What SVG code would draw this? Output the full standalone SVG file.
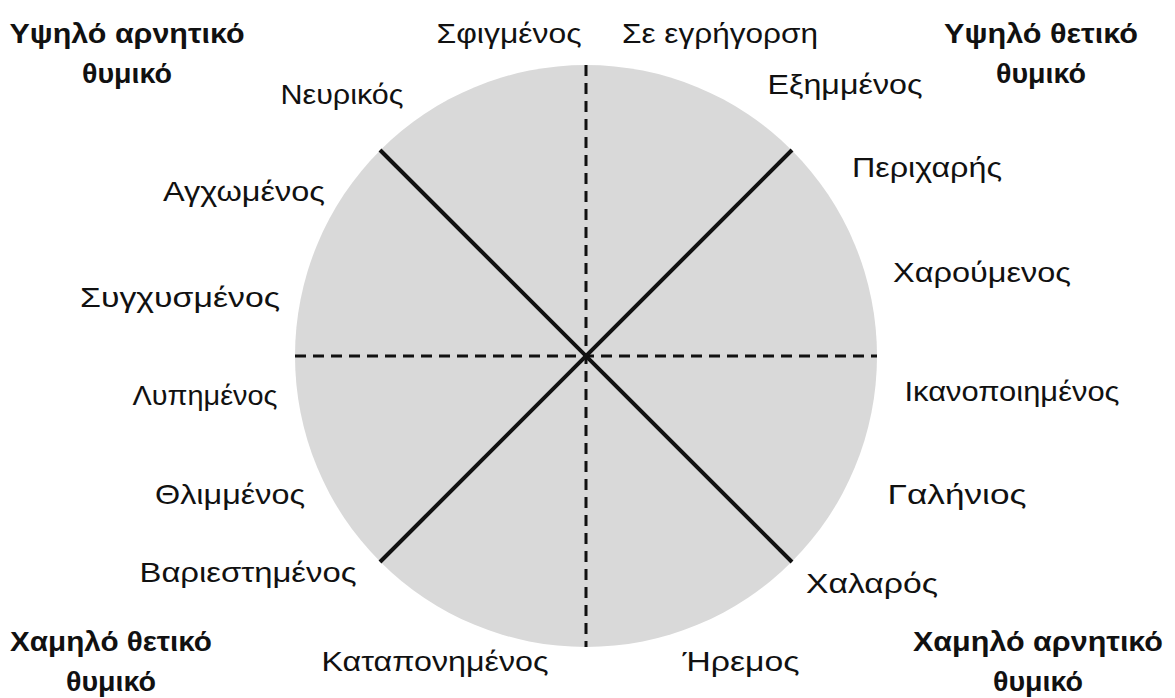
<svg xmlns="http://www.w3.org/2000/svg" width="1175" height="698" viewBox="0 0 1175 698">
<style>
.lbl{font-family:"Liberation Sans",Arial,sans-serif;font-size:28px;fill:#111;text-anchor:middle}
.hd{font-family:"Liberation Sans",Arial,sans-serif;font-size:28px;font-weight:bold;fill:#111;text-anchor:middle}
.dash{stroke:#111;stroke-width:3;stroke-dasharray:11 7;fill:none}
.axis{stroke:#111;stroke-width:4;fill:none}
</style>
<rect width="1175" height="698" fill="#fff"/>
<g id="wheel">
<circle cx="586" cy="356" r="291" fill="#d9d9d9"/>
</g>
<g id="connectors">
<line class="dash" x1="586" y1="65" x2="586" y2="647"/>
<line class="dash" x1="295" y1="356" x2="877" y2="356"/>
<line class="axis" x1="380" y1="150" x2="792" y2="562"/>
<line class="axis" x1="792" y1="150" x2="380" y2="562"/>
</g>
<g id="corner-hn"><text class="hd" x="127" y="43" textLength="235" lengthAdjust="spacingAndGlyphs">Υψηλό αρνητικό</text><text class="hd" x="127" y="83" textLength="90" lengthAdjust="spacingAndGlyphs">θυμικό</text></g>
<g id="corner-hp"><text class="hd" x="1041" y="43" textLength="194" lengthAdjust="spacingAndGlyphs">Υψηλό θετικό</text><text class="hd" x="1041" y="83" textLength="90" lengthAdjust="spacingAndGlyphs">θυμικό</text></g>
<g id="corner-lp"><text class="hd" x="111" y="651" textLength="202" lengthAdjust="spacingAndGlyphs">Χαμηλό θετικό</text><text class="hd" x="111" y="691" textLength="90" lengthAdjust="spacingAndGlyphs">θυμικό</text></g>
<g id="corner-ln"><text class="hd" x="1038" y="651" textLength="250" lengthAdjust="spacingAndGlyphs">Χαμηλό αρνητικό</text><text class="hd" x="1038" y="691" textLength="90" lengthAdjust="spacingAndGlyphs">θυμικό</text></g>
<g id="n1"><text class="lbl" x="509" y="43" textLength="145" lengthAdjust="spacingAndGlyphs">Σφιγμένος</text></g>
<g id="n2"><text class="lbl" x="720" y="43" textLength="196" lengthAdjust="spacingAndGlyphs">Σε εγρήγορση</text></g>
<g id="n3"><text class="lbl" x="342" y="104" textLength="123" lengthAdjust="spacingAndGlyphs">Νευρικός</text></g>
<g id="n4"><text class="lbl" x="845" y="94" textLength="155" lengthAdjust="spacingAndGlyphs">Εξημμένος</text></g>
<g id="n5"><text class="lbl" x="244" y="201" textLength="162" lengthAdjust="spacingAndGlyphs">Αγχωμένος</text></g>
<g id="n6"><text class="lbl" x="927" y="177" textLength="150" lengthAdjust="spacingAndGlyphs">Περιχαρής</text></g>
<g id="n7"><text class="lbl" x="180" y="307" textLength="200" lengthAdjust="spacingAndGlyphs">Συγχυσμένος</text></g>
<g id="n8"><text class="lbl" x="982" y="282" textLength="178" lengthAdjust="spacingAndGlyphs">Χαρούμενος</text></g>
<g id="n9"><text class="lbl" x="205" y="405" textLength="145" lengthAdjust="spacingAndGlyphs">Λυπημένος</text></g>
<g id="n10"><text class="lbl" x="1012" y="401" textLength="215" lengthAdjust="spacingAndGlyphs">Ικανοποιημένος</text></g>
<g id="n11"><text class="lbl" x="230" y="504" textLength="150" lengthAdjust="spacingAndGlyphs">Θλιμμένος</text></g>
<g id="n12"><text class="lbl" x="957" y="504" textLength="139" lengthAdjust="spacingAndGlyphs">Γαλήνιος</text></g>
<g id="n13"><text class="lbl" x="248" y="582" textLength="217" lengthAdjust="spacingAndGlyphs">Βαριεστημένος</text></g>
<g id="n14"><text class="lbl" x="872" y="593" textLength="132" lengthAdjust="spacingAndGlyphs">Χαλαρός</text></g>
<g id="n15"><text class="lbl" x="435" y="671" textLength="227" lengthAdjust="spacingAndGlyphs">Καταπονημένος</text></g>
<g id="n16"><text class="lbl" x="741" y="671" textLength="117" lengthAdjust="spacingAndGlyphs">Ήρεμος</text></g>
</svg>
